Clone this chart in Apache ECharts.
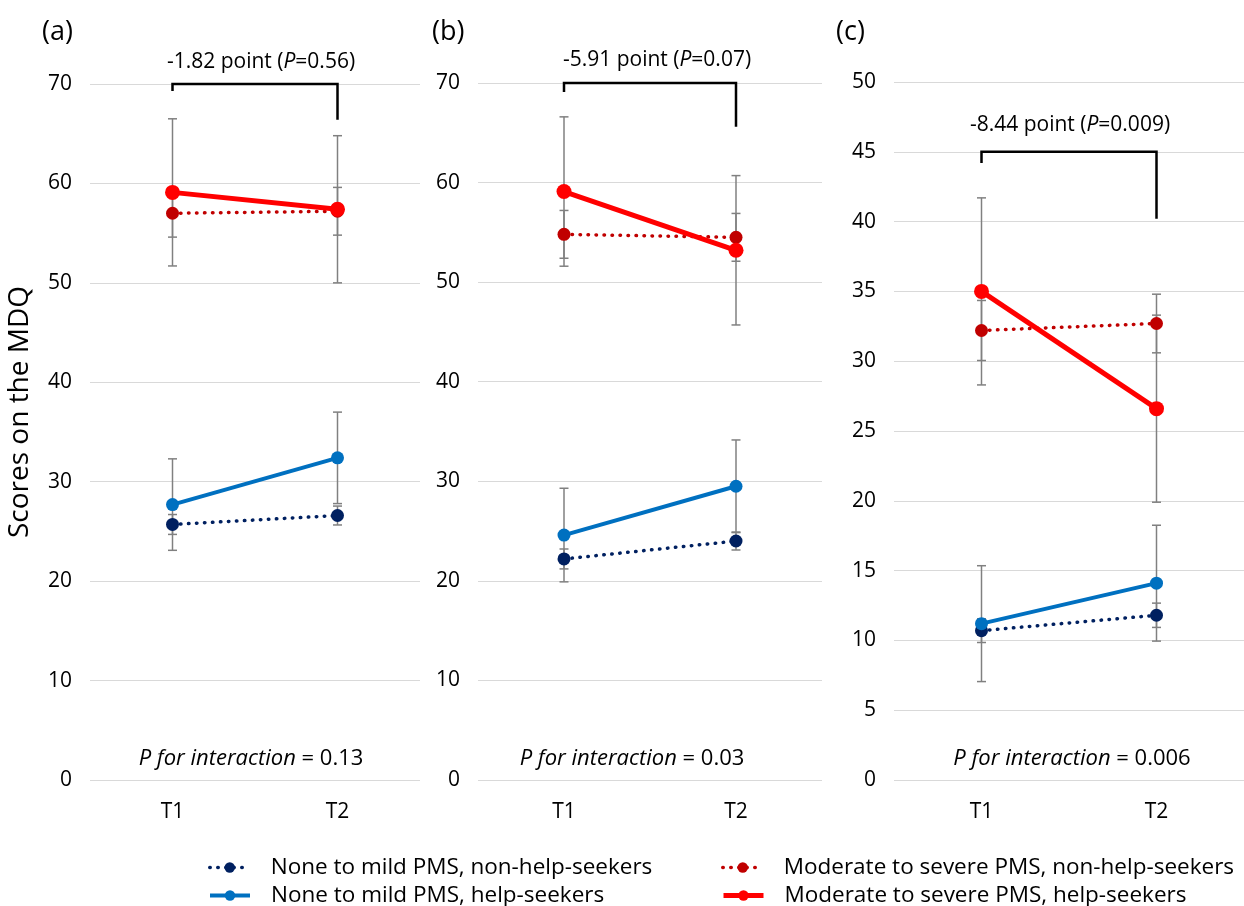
<!DOCTYPE html>
<html>
<head>
<meta charset="utf-8">
<script src="https://cdn.jsdelivr.net/npm/echarts@6/dist/echarts.min.js"></script>
<style>
html,body{margin:0;padding:0;background:#fff;}
#chart{width:1244px;height:906px;}
</style>
</head>
<body>
<div id="chart"></div>
<script>
// ---------- DATA ----------
const categories = ['T1', 'T2'];
const seriesNames = [
  'None to mild PMS, non-help-seekers',
  'None to mild PMS, help-seekers',
  'Moderate to severe PMS, non-help-seekers',
  'Moderate to severe PMS, help-seekers'
];
const panelLabels = ['(a)', '(b)', '(c)'];

// Panel (a)
const a_mildNon = [25.7, 26.6];   const a_mildNonErr = [1.0, 0.95];
const a_mildHelp = [27.7, 32.4];  const a_mildHelpErr = [4.6, 4.6];
const a_sevNon = [57.0, 57.2];    const a_sevNonErr = [2.4, 2.4];
const a_sevHelp = [59.1, 57.4];   const a_sevHelpErr = [7.4, 7.4];
// Panel (b)
const b_mildNon = [22.2, 24.0];   const b_mildNonErr = [1.0, 0.9];
const b_mildHelp = [24.6, 29.5];  const b_mildHelpErr = [4.7, 4.65];
const b_sevNon = [54.8, 54.5];    const b_sevNonErr = [2.4, 2.4];
const b_sevHelp = [59.1, 53.2];   const b_sevHelpErr = [7.5, 7.5];
// Panel (c)
const c_mildNon = [10.7, 11.8];   const c_mildNonErr = [0.85, 0.87];
const c_mildHelp = [11.2, 14.1];  const c_mildHelpErr = [4.15, 4.15];
const c_sevNon = [32.2, 32.7];    const c_sevNonErr = [2.15, 2.1];
const c_sevHelp = [35.0, 26.6];   const c_sevHelpErr = [6.7, 6.7];

// y axis ranges / ticks
const yMax = [70, 70, 50];
const yInterval = [10, 10, 5];

// Bracket annotations: [top, left leg end, right leg end]
const brackets = [[70, 69.3, 66.4], [70, 69.1, 65.6], [45, 44.2, 40.2]];
const diffTexts = ['-1.82', '-5.91', '-8.44'];
const diffP = ['0.56', '0.07', '0.009'];
const interactionP = ['0.13', '0.03', '0.006'];

// ---------- STYLE / LAYOUT ----------
const FONT = '"Open Sans", "Noto Sans", sans-serif';
const colors = ['#002060', '#0070C0', '#C00000', '#FF0000'];
const lineWidths = [3.5, 4, 3.5, 5];
const grids = [
  {left: 90, right: 1244 - 420, top: 84, bottom: 126},
  {left: 478, right: 1244 - 822, top: 83, bottom: 126},
  {left: 894, right: 0, top: 82, bottom: 126}
];
const panelMeans = [
  [a_mildNon, a_mildHelp, a_sevNon, a_sevHelp],
  [b_mildNon, b_mildHelp, b_sevNon, b_sevHelp],
  [c_mildNon, c_mildHelp, c_sevNon, c_sevHelp]
];
const panelErrs = [
  [a_mildNonErr, a_mildHelpErr, a_sevNonErr, a_sevHelpErr],
  [b_mildNonErr, b_mildHelpErr, b_sevNonErr, b_sevHelpErr],
  [c_mildNonErr, c_mildHelpErr, c_sevNonErr, c_sevHelpErr]
];
const diffCenters = [261, 657, 1070];
const diffOffsets = [22, 23, 27];
const interCenters = [246, 627, 1067];
const panelLabelX = [37, 427, 831];
const legendPos = [[203, 851], [203, 879], [716, 851], [716, 879]];

const xAxes = [], yAxes = [], series = [], titles = [];
for (let p = 0; p < 3; p++) {
  xAxes.push({
    type: 'category', gridIndex: p, data: categories, boundaryGap: true,
    axisLine: {show: false}, axisTick: {show: false},
    axisLabel: {color: '#000', fontFamily: FONT, fontSize: 21, margin: 22}
  });
  yAxes.push({
    type: 'value', gridIndex: p, min: 0, max: yMax[p], interval: yInterval[p],
    axisLine: {show: false}, axisTick: {show: false},
    axisLabel: {color: '#000', fontFamily: FONT, fontSize: 21, margin: 18},
    splitLine: {lineStyle: {color: '#d9d9d9', width: 1}},
    name: p === 0 ? 'Scores on the MDQ' : '',
    nameLocation: 'middle', nameGap: 56, nameRotate: 90,
    nameTextStyle: {color: '#000', fontFamily: FONT, fontSize: 28, padding: [0, 0, 0, 40]}
  });

  // error bars
  const errData = [];
  for (let s = 0; s < 4; s++) {
    for (let i = 0; i < categories.length; i++) {
      const m = panelMeans[p][s][i], e = panelErrs[p][s][i];
      errData.push([i, m - e, m + e]);
    }
  }
  series.push({
    type: 'custom', xAxisIndex: p, yAxisIndex: p, z: 1, silent: true,
    encode: {x: 0, y: [1, 2]},
    data: errData,
    renderItem: function (params, api) {
      const x = api.value(0);
      const lo = api.coord([x, api.value(1)]);
      const hi = api.coord([x, api.value(2)]);
      const hw = 4.5;
      const st = {stroke: '#808080', lineWidth: 1.5};
      return {type: 'group', children: [
        {type: 'line', shape: {x1: lo[0], y1: lo[1], x2: hi[0], y2: hi[1]}, style: st},
        {type: 'line', shape: {x1: lo[0] - hw, y1: lo[1], x2: lo[0] + hw, y2: lo[1]}, style: st},
        {type: 'line', shape: {x1: hi[0] - hw, y1: hi[1], x2: hi[0] + hw, y2: hi[1]}, style: st}
      ]};
    }
  });

  // lines
  for (let s = 0; s < 4; s++) {
    const dotted = (s === 0 || s === 2);
    series.push({
      name: seriesNames[s], type: 'line', xAxisIndex: p, yAxisIndex: p, z: 3 + s,
      data: panelMeans[p][s],
      symbol: 'circle', symbolSize: s === 3 ? 15 : 13,
      itemStyle: {color: colors[s]},
      lineStyle: {color: colors[s], width: lineWidths[s],
        type: dotted ? [0.5, 7.5] : 'solid', cap: dotted ? 'round' : 'butt'},
      emphasis: {disabled: true}, animation: false
    });
  }

  // bracket annotation
  series.push({
    type: 'custom', xAxisIndex: p, yAxisIndex: p, z: 10, silent: true,
    encode: {x: -1, y: [0, 1, 2]},
    data: [brackets[p]],
    renderItem: (function (pi) {
      return function (params, api) {
        const top = api.value(0), le = api.value(1), re = api.value(2);
        const a = api.coord([0, top]), b = api.coord([1, top]);
        const al = api.coord([0, le]), br = api.coord([1, re]);
        const st = {stroke: '#000', lineWidth: 2.5, fill: null};
        return {type: 'group', children: [
          {type: 'polyline', shape: {points: [[al[0], al[1]], [a[0], a[1]], [b[0], b[1]], [br[0], br[1]]]}, style: st},
          {type: 'text', x: diffCenters[pi], y: a[1] - diffOffsets[pi], style: {
            text: '{n|' + diffTexts[pi] + ' point (}{i|P}{n|=' + diffP[pi] + ')}',
            align: 'center', verticalAlign: 'middle',
            rich: {
              n: {fontFamily: FONT, fontSize: 21, fill: '#000', color: '#000'},
              i: {fontFamily: FONT, fontSize: 21, fontStyle: 'italic', fill: '#000', color: '#000'}
            }
          }}
        ]};
      };
    })(p)
  });

  titles.push({
    text: panelLabels[p], left: panelLabelX[p], top: 14,
    textStyle: {fontFamily: FONT, fontSize: 27, fontWeight: 'normal', color: '#000'}
  });
  titles.push({
    text: '{i|P for interaction}{n| = ' + interactionP[p] + '}',
    left: interCenters[p], top: 743, textAlign: 'center',
    textStyle: {fontWeight: 'normal', rich: {
      i: {fontFamily: FONT, fontSize: 22, fontStyle: 'italic', fontWeight: 'normal', color: '#000'},
      n: {fontFamily: FONT, fontSize: 22, fontWeight: 'normal', color: '#000'}
    }}
  });
}

const legends = seriesNames.map(function (nm, i) {
  return {
    left: legendPos[i][0], top: legendPos[i][1], data: [nm],
    itemWidth: 40, itemHeight: 13,
    lineStyle: {width: lineWidths[i]},
    textStyle: {fontFamily: FONT, fontSize: 22.5, color: '#000', padding: [0, 0, 0, 16]},
    selectedMode: false
  };
});

const option = {
  backgroundColor: '#fff',
  animation: false,
  title: titles,
  grid: grids,
  xAxis: xAxes,
  yAxis: yAxes,
  legend: legends,
  series: series
};

const chart = echarts.init(document.getElementById('chart'), null, {renderer: 'canvas'});
chart.setOption(option);
</script>
</body>
</html>
